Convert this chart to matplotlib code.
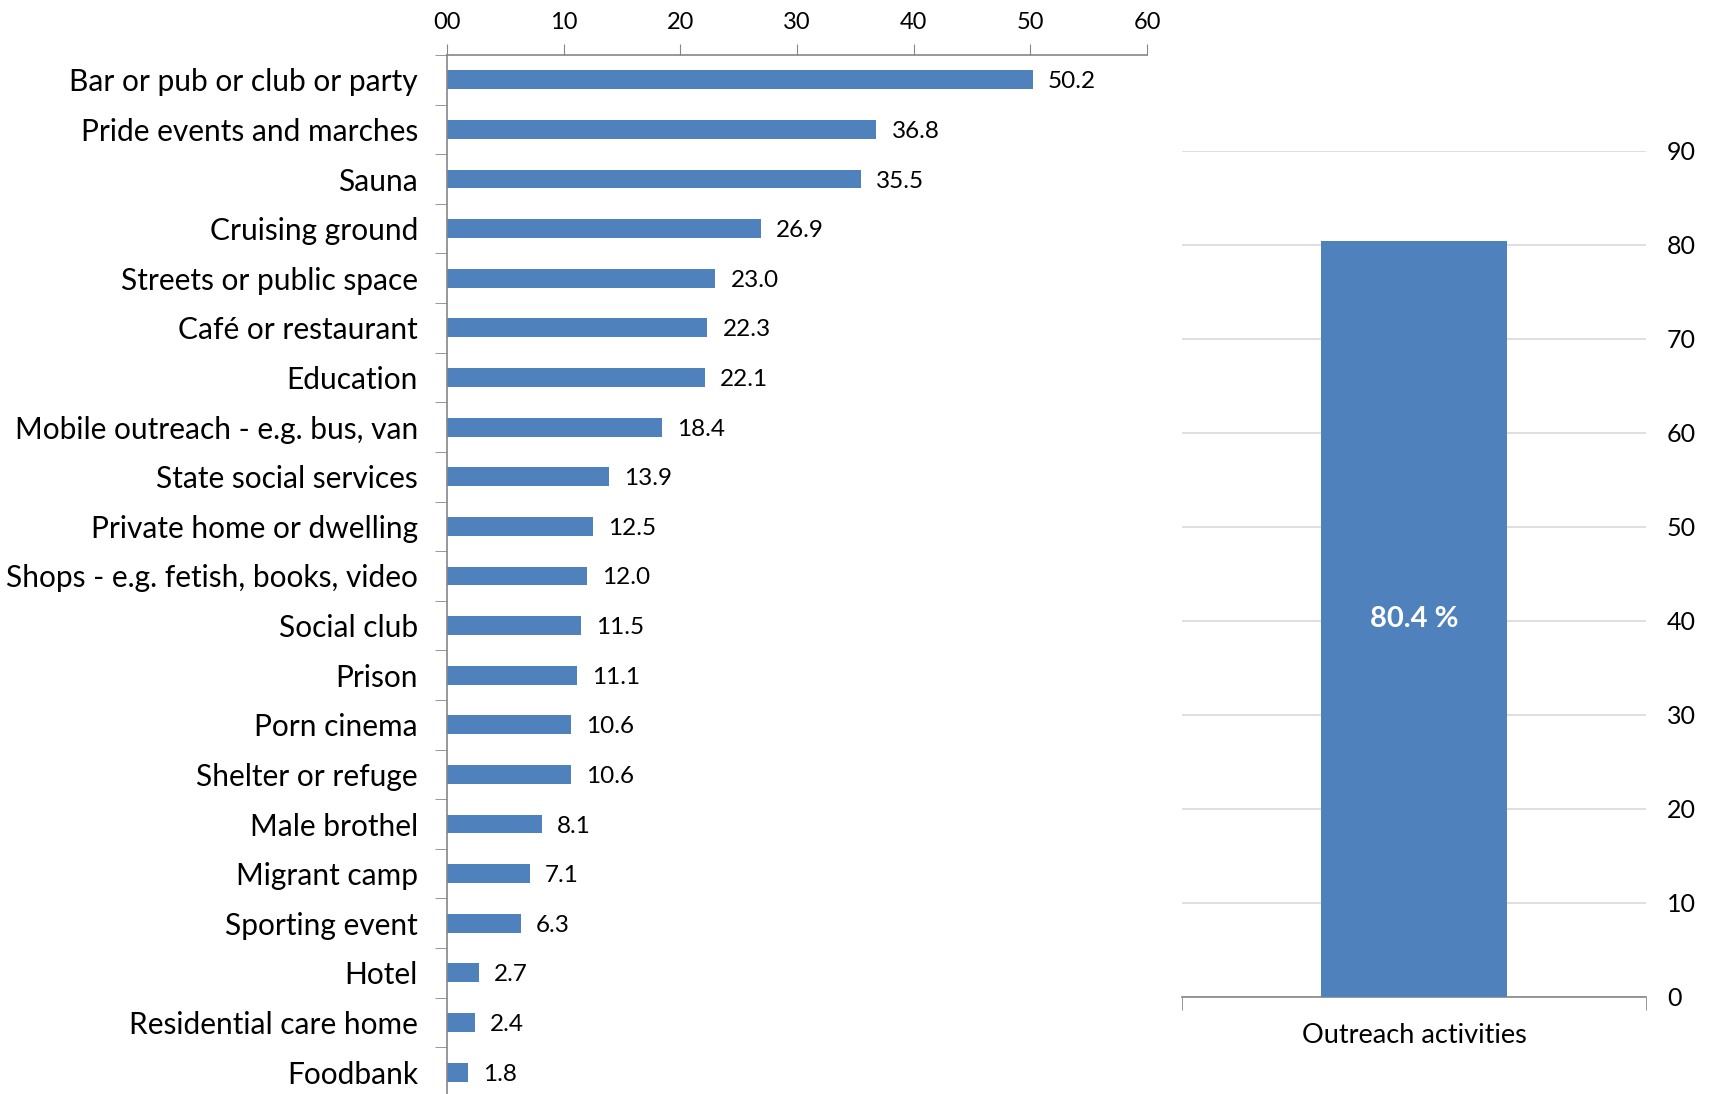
import matplotlib
matplotlib.use("Agg")
import matplotlib.pyplot as plt
import numpy as np

plt.rcParams['font.family'] = ['Lato', 'DejaVu Sans']

places = ['Bar or pub or club or party', 'Pride events and marches', 'Sauna',
          'Cruising ground', 'Streets or public space', 'Café or restaurant',
          'Education', 'Mobile outreach - e.g. bus, van', 'State social services',
          'Private home or dwelling', 'Shops - e.g. fetish, books, video',
          'Social club', 'Prison', 'Porn cinema', 'Shelter or refuge',
          'Male brothel', 'Migrant camp', 'Sporting event', 'Hotel',
          'Residential care home', 'Foodbank']
percent = [50.2, 36.8, 35.5, 26.9, 23.0, 22.3, 22.1, 18.4, 13.9, 12.5, 12.0,
           11.5, 11.1, 10.6, 10.6, 8.1, 7.1, 6.3, 2.7, 2.4, 1.8]
top_ticks = [0, 10, 20, 30, 40, 50, 60]
top_labels = ['00', '10', '20', '30', '40', '50', '60']

outreach_cat = ['Outreach activities']
outreach_val = [80.4]

blue = '#4F81BD'
axc = '#868686'

fig = plt.figure(figsize=(17.13, 10.94), dpi=100)

# left: horizontal bars
ax = fig.add_axes([0.261, -0.0027, 0.4086, 0.9524])
y = np.arange(len(places))
ax.barh(y, percent, height=0.38, color=blue)
ax.set_ylim(len(places) - 0.5, -0.5)
ax.set_xlim(0, 60)
for yi, v in zip(y, percent):
    ax.text(v + 1.3, yi + 0.04, f'{v:.1f}', va='center', ha='left', fontsize=17.5)
ax.xaxis.tick_top()
ax.set_xticks(top_ticks)
ax.set_xticklabels(top_labels, fontsize=17)
ax.tick_params(axis='x', direction='out', length=8, color=axc, pad=8)
ax.set_yticks(y)
ax.set_yticklabels(places, fontsize=21.5)
ax.tick_params(axis='y', which='major', length=0, pad=21)
ax.set_yticks(np.arange(-0.5, len(places), 1), minor=True)
ax.tick_params(axis='y', which='minor', length=9, color=axc)
for s in ['right', 'bottom']:
    ax.spines[s].set_visible(False)
for s in ['left', 'top']:
    ax.spines[s].set_color(axc)
    ax.spines[s].set_linewidth(1.2)

# right: single column
ax2 = fig.add_axes([0.690, 0.089, 0.271, 0.7733])
ax2.bar([0], outreach_val, width=0.4, color=blue, zorder=3)
ax2.set_xlim(-0.5, 0.5)
ax2.set_ylim(0, 90)
ax2.set_yticks(range(0, 91, 10))
ax2.yaxis.tick_right()
ax2.tick_params(axis='y', length=0, labelsize=18, pad=15)
ax2.grid(axis='y', color='#D9D9D9', linewidth=1.2, zorder=0)
ax2.set_xticks([0])
ax2.set_xticklabels(outreach_cat, fontsize=19.5)
ax2.tick_params(axis='x', which='major', length=0, pad=19)
ax2.set_xticks([-0.5, 0.5], minor=True)
ax2.tick_params(axis='x', which='minor', length=9, color=axc)
for s in ['left', 'right', 'top']:
    ax2.spines[s].set_visible(False)
ax2.spines['bottom'].set_color(axc)
ax2.spines['bottom'].set_linewidth(1.2)
ax2.text(0, outreach_val[0] / 2, f'{outreach_val[0]} %', ha='center', va='center',
         color='white', fontsize=21, fontweight='bold', zorder=4)

fig.savefig('out.png', dpi=100)
